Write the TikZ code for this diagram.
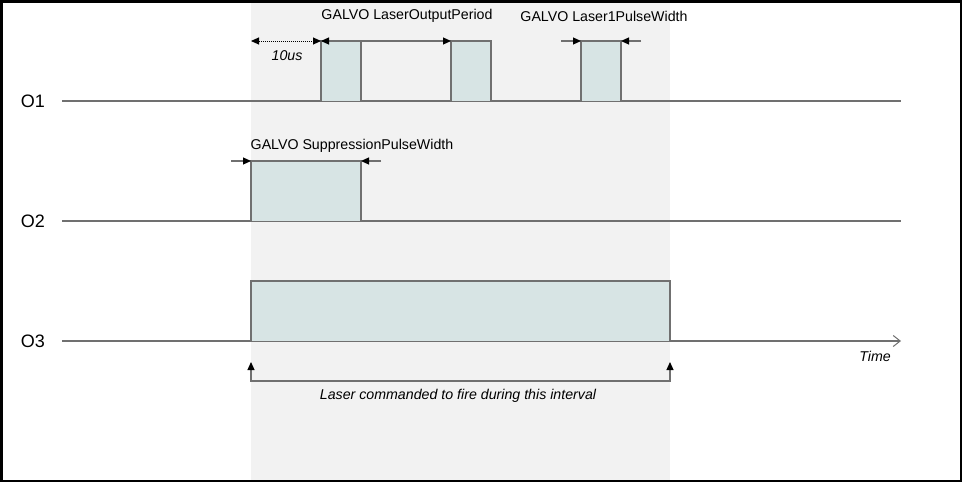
\documentclass[tikz,border=0pt]{standalone}
\usepackage{fontspec}
\setmainfont{Liberation Sans}
\usetikzlibrary{arrows.meta}
\definecolor{band}{HTML}{F2F2F2}
\definecolor{pulsefill}{HTML}{D7E4E4}
\definecolor{edge}{HTML}{707070}
\tikzset{
  pulse/.style={draw=edge, fill=pulsefill, line width=1.2pt},
  baseline/.style={draw=edge, line width=1.2pt},
  blk/.tip={Triangle[length=8pt,width=7pt,color=black,fill=black]},
  tip/.style={-blk},
  lbl/.style={font=\fontsize{14.2}{16}\selectfont, inner sep=0pt},
  ilbl/.style={font=\fontsize{14.2}{16}\selectfont\itshape, inner sep=0pt},
  sig/.style={font=\fontsize{18}{20}\selectfont, inner sep=0pt},
}
\begin{document}
\begin{tikzpicture}[x=1pt,y=-1pt]
\useasboundingbox (0,0) rectangle (962,482);
% band
\fill[band] (251,2) rectangle (670,480);
% frame
\draw[line width=2.5pt] (1.25,1.25) rectangle (960.75,480.75);
% baselines
\coordinate (o1s) at (62,101); \coordinate (o1e) at (901,101);
\coordinate (o2s) at (62,221); \coordinate (o2e) at (901,221);
\coordinate (o3s) at (62,341); \coordinate (o3e) at (901,341);
\draw[baseline] (o1s) -- (o1e);
\draw[baseline] (o2s) -- (o2e);
\draw[baseline, -{Straight Barb[length=7pt,width=11pt,line width=1pt]}] (o3s) -- (o3e);
\node[sig] (lo1) at (33,101) {O1};
\node[sig] (lo2) at (33,221) {O2};
\node[sig] (lo3) at (33,341) {O3};
% pulses
\draw[pulse] (321,101) -- (321,41) coordinate (p1tl) -- (361,41) coordinate (p1tr) -- (361,101);
\draw[pulse] (451,101) -- (451,41) coordinate (p2tl) -- (491,41) coordinate (p2tr) -- (491,101);
\draw[pulse] (581,101) -- (581,41) coordinate (p3tl) -- (621,41) coordinate (p3tr) -- (621,101);
\draw[pulse] (251,221) -- (251,161) coordinate (q1tl) -- (361,161) coordinate (q1tr) -- (361,221);
\draw[pulse] (251,341) -- (251,281) coordinate (r1tl) -- (670,281) coordinate (r1tr) -- (670,341);
% 10us
\coordinate (us0) at (251,41);
\draw[densely dotted, line width=1pt, blk-blk] (us0) -- (p1tl);
\node[ilbl] (tus) at (287,56) {10us};
% period
\draw[baseline, blk-blk] (p1tl) -- (p2tl);
\node[lbl] (tper) at (407,16) {GALVO LaserOutputPeriod};
% Laser1PulseWidth
\coordinate (a1) at (561,41); \coordinate (a2) at (641,41);
\draw[baseline, tip] (a1) -- (p3tl);
\draw[baseline, tip] (a2) -- (p3tr);
\node[lbl] (tpw) at (604,16) {GALVO Laser1PulseWidth};
% suppression
\coordinate (b1) at (231,161); \coordinate (b2) at (381,161);
\draw[baseline, tip] (b1) -- (q1tl);
\draw[baseline, tip] (b2) -- (q1tr);
\node[lbl] (tsup) at (352,146) {GALVO SuppressionPulseWidth};
% bracket
\coordinate (c1) at (251,362); \coordinate (c2) at (670,362);
\draw[baseline, blk-blk] (c1) -- (251,381) -- (670,381) -- (c2);
\node[ilbl] (tint) at (458,396) {Laser commanded to fire during this interval};
\node[ilbl] (ttime) at (875,356) {Time};
\end{tikzpicture}
\end{document}
